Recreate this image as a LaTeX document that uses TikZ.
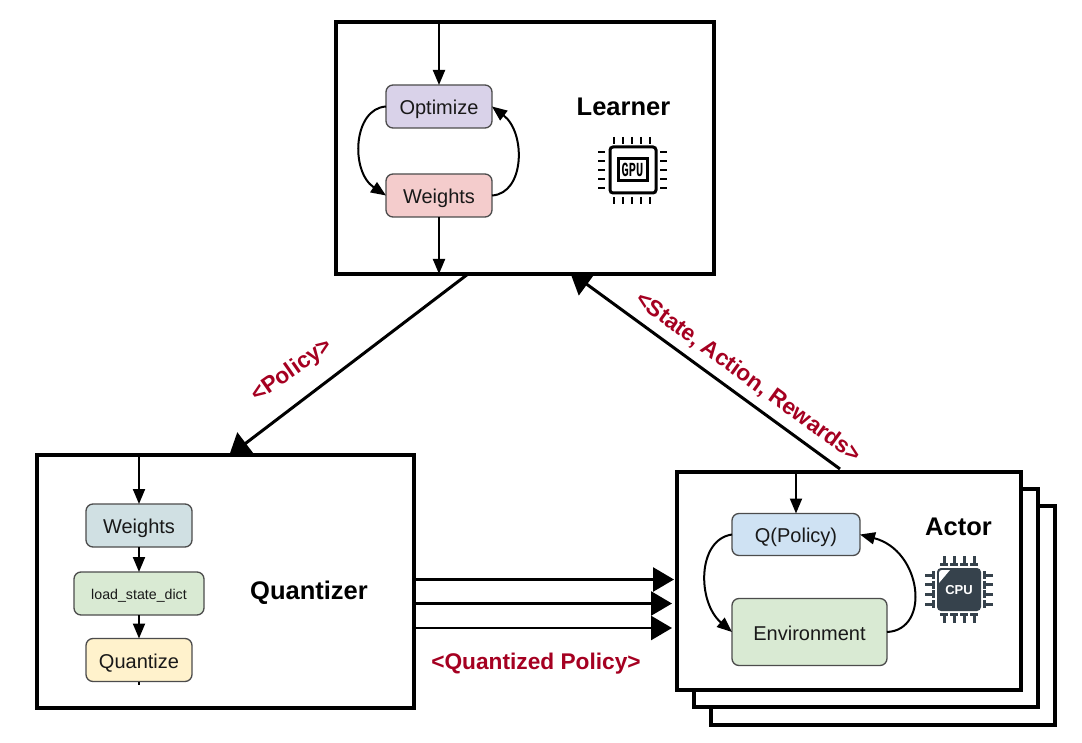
\documentclass[tikz,border=0pt]{standalone}
\usepackage{fontspec}
\setmainfont{Liberation Sans}
\newfontfamily\gpufont{Liberation Mono}
\usetikzlibrary{arrows.meta,calc}
\definecolor{redlabel}{HTML}{A50021}
\definecolor{cpudark}{HTML}{36424C}
\definecolor{purplefill}{HTML}{D9D2E9}
\definecolor{pinkfill}{HTML}{F4CCCC}
\definecolor{bluegrey}{HTML}{D0E0E3}
\definecolor{greenfill}{HTML}{D9EAD3}
\definecolor{yellowfill}{HTML}{FFF2CC}
\definecolor{bluefill}{HTML}{CFE2F3}
\tikzset{
  x=1pt,y=-1pt,
  bigbox/.style={draw=black,line width=4pt,fill=white,inner sep=0pt,outer sep=0pt,line join=miter},
  func/.style={draw=black!70,line width=1.3pt,rounded corners=7pt,inner sep=0pt,outer sep=0pt,font=\fontsize{20}{24}\selectfont,text=black!90,text height=16.5pt,text depth=0pt},
  title/.style={font=\fontsize{25.5}{30}\selectfont\bfseries,inner sep=0pt,text height=18pt,text depth=0pt},
  redtext/.style={font=\fontsize{22.7}{27}\selectfont\bfseries,text=redlabel,inner sep=0pt,text height=16pt,text depth=0pt},
  small/.style={line width=2pt,-{Triangle[length=15pt,width=12pt]}},
  loop/.style={line width=2pt,-{Triangle[length=15pt,width=12pt]}},
  large/.style={line width=3pt,-{Triangle[length=21pt,width=27pt]}},
  pin/.style={line width=2.6pt,line cap=butt},
  cpin/.style={line width=3pt,draw=cpudark},
}
\begin{document}
\begin{tikzpicture}
\useasboundingbox (0,0) rectangle (1082,743);
\fill[white] (0,0) rectangle (1082,743);

% actor stack
\node[bigbox,minimum width=344pt,minimum height=219pt] (actorC) at (883,615.5) {};
\node[bigbox,minimum width=344pt,minimum height=218pt] (actorB) at (866,598) {};

% large arrows, heads under the frames
\coordinate (lowL) at (468,274);
\coordinate (upQ) at (229,456);
\coordinate (lowA) at (840,469);
\coordinate (upL) at (570,272);
\draw[large] (lowL) -- (upQ);
\draw[large] (lowA) -- (upL);

% main frames
\node[bigbox,minimum width=378pt,minimum height=252pt] (learner) at (525,148) {};
\node[bigbox,minimum width=377pt,minimum height=253pt] (quant) at (225.5,581.5) {};
\node[bigbox,minimum width=344pt,minimum height=218pt] (actor) at (849,581) {};

% learner
\node[func,fill=purplefill,minimum width=106pt,minimum height=43pt] (opt) at (439,106.5) {Optimize};
\node[func,fill=pinkfill,minimum width=106pt,minimum height=43pt] (lw) at (439,195.5) {Weights};
\draw[small] (opt.north |- learner.north) -- (opt.north);
\draw[small] (lw.south) -- (lw.south |- learner.south);
\draw[loop] (opt.west) .. controls +(-33,2) and +(-36,-24) .. (lw.west);
\draw[loop] (lw.east) .. controls +(33,-2) and +(34,26) .. (opt.east);
\node[title] (ltitle) at (623.5,106.5) {Learner};

% quantizer
\node[func,fill=bluegrey,minimum width=106pt,minimum height=43pt] (qw) at (139,525.5) {Weights};
\node[func,fill=greenfill,minimum width=130pt,minimum height=43pt,font=\fontsize{14.2}{17}\selectfont,text height=11pt] (qd) at (139,593.5) {load\_state\_dict};
\node[func,fill=yellowfill,minimum width=106pt,minimum height=43pt] (qq) at (139,660) {Quantize};
\draw[small] (qw.north |- quant.north) -- (qw.north);
\draw[small] (qw.south) -- (qd.north);
\draw[small] (qd.south) -- (qq.north);
\draw[line width=1.5pt] (qq.south) -- +(0,3);
\node[title] (qtitle) at (309,590) {Quantizer};

% actor
\node[func,fill=bluefill,minimum width=128pt,minimum height=42pt] (qp) at (796,534.5) {Q(Policy)};
\node[func,fill=greenfill,minimum width=155pt,minimum height=67pt] (env) at (809.5,632) {Environment};
\draw[small] (qp.north |- actor.north) -- (qp.north);
\draw[loop] (qp.west) .. controls +(-35,5) and +(-35,-30) .. (env.west);
\draw[loop] (env.east) .. controls +(44,-2) and +(62,16) .. (qp.east);
\node[title] (atitle) at (958.5,526) {Actor};

% quantizer to actor
\coordinate (a1) at (674,579.5);
\coordinate (a2) at (672,603.5);
\coordinate (a3) at (672,628);
\foreach \p in {a1,a2,a3}
  \draw[line width=2.7pt,-{Triangle[length=21pt,width=24pt]}] (quant.east |- \p) -- (\p);

% labels
\node[redtext,rotate=35] (lpol) at (291,369) {<Policy>};
\node[redtext,rotate=-36] (lsar) at (749,376.5) {<State, Action, Rewards>};
\node[redtext] (lqp) at (536,661) {<Quantized Policy>};

% GPU icon
\draw[line width=3pt,rounded corners=3pt] (610,147) rectangle (656,193);
\draw[line width=3pt] (618,159) rectangle (647,181);
\node[inner sep=0pt,font=\fontsize{20}{20}\gpufont\bfseries] (gputxt) at (632.5,170) {\scalebox{0.6}[1]{GPU}};
\foreach \k in {0,...,4}{
  \draw[pin] ({614+9*\k},137) -- ({614+9*\k},144);
  \draw[pin] ({614+9*\k},197) -- ({614+9*\k},204);
  \draw[pin] (598,{152+9*\k}) -- (605,{152+9*\k});
  \draw[pin] (660,{152+9*\k}) -- (667,{152+9*\k});
}

% CPU icon
\fill[cpudark,rounded corners=4pt] (937,568) rectangle (981,611);
\fill[white] (939,583) -- (939,573) .. controls (939,571) and (940,570) .. (942,570) -- (950,570) -- cycle;
\node[inner sep=0pt,text=white,font=\fontsize{13}{13}\selectfont\bfseries] (cputxt) at (959,590) {CPU};
\foreach \k in {0,1,2,3}{
  \draw[cpin] ({944+10*\k},556) -- ({944+10*\k},565);
  \draw[cpin] ({940+10*\k},564.5) -- ({948+10*\k},564.5);
  \draw[cpin] ({944+10*\k},614) -- ({944+10*\k},623);
  \draw[cpin] ({940+10*\k},614.5) -- ({948+10*\k},614.5);
  \draw[cpin] (925,{575+9.7*\k}) -- (934,{575+9.7*\k});
  \draw[cpin] (933.5,{571+9.7*\k}) -- (933.5,{579+9.7*\k});
  \draw[cpin] (984,{575+9.7*\k}) -- (993,{575+9.7*\k});
  \draw[cpin] (984.5,{571+9.7*\k}) -- (984.5,{579+9.7*\k});
}
\end{tikzpicture}
\end{document}
